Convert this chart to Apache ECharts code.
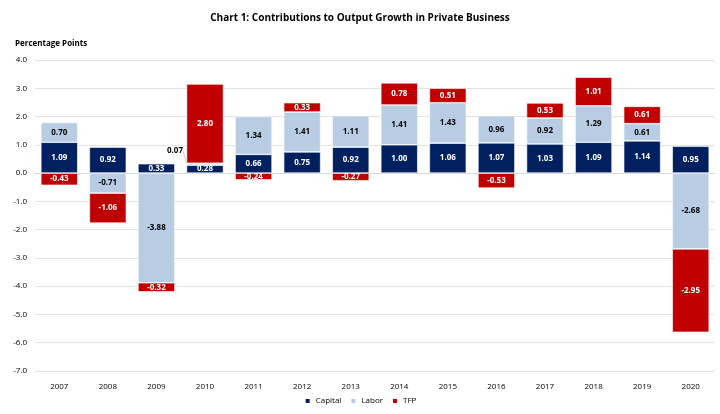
<!DOCTYPE html>
<html><head><meta charset="utf-8">
<script src="https://cdn.jsdelivr.net/npm/echarts@6/dist/echarts.min.js"></script>
<style>html,body{margin:0;padding:0;background:#fff}#c{width:720px;height:414px}</style>
</head><body><div id="c"></div>
<script>
const years = ['2007','2008','2009','2010','2011','2012','2013','2014','2015','2016','2017','2018','2019','2020'];
const capital = [1.09,0.92,0.33,0.28,0.66,0.75,0.92,1.00,1.06,1.07,1.03,1.09,1.14,0.95];
const labor = [0.70,-0.71,-3.88,0.07,1.34,1.41,1.11,1.41,1.43,0.96,0.92,1.29,0.61,-2.68];
const tfp = [-0.43,-1.06,-0.32,2.80,-0.24,0.33,-0.27,0.78,0.51,-0.53,0.53,1.01,0.61,-2.95];

const FONT = 'Open Sans';
const chart = echarts.init(document.getElementById('c'));
function lbl(color){
  return {show:true, position:'inside', color:color, fontFamily:FONT, fontWeight:'bold', fontSize:8,
    formatter: p => p.value.toFixed(2)};
}
const laborData = labor.map((v,i)=> i===3 ? {value:v, label:{color:'#000'}} : v);
chart.setOption({
  animation:false,
  title:{text:'Chart 1: Contributions to Output Growth in Private Business', left:'center', top:8,
    textStyle:{fontFamily:FONT, fontSize:10, fontWeight:'bold', color:'#000'}},
  legend:{bottom:4, left:'center', itemWidth:6, itemHeight:6, itemGap:8, icon:'rect',
    textStyle:{fontFamily:FONT, fontSize:8, color:'#000'}},
  grid:{left:35, right:5, top:60, bottom:43},
  xAxis:{type:'category', data:years, axisTick:{show:false},
    axisLine:{show:true, lineStyle:{color:'#d9d9d9'}},
    axisLabel:{fontFamily:FONT, fontSize:8, color:'#000', margin:12}},
  yAxis:{type:'value', min:-7, max:4, interval:1,
    name:'Percentage Points', nameLocation:'end', nameGap:12,
    nameTextStyle:{fontFamily:FONT, fontSize:8, fontWeight:'bold', color:'#000', align:'left', padding:[0,0,0,-20]},
    splitLine:{lineStyle:{color:'#e3e3e3'}},
    axisLabel:{fontFamily:FONT, fontSize:8, color:'#000', formatter:v=>v.toFixed(1)}},
  series:[
    {name:'Capital', type:'bar', stack:'a', data:capital, barCategoryGap:'24%',
      itemStyle:{color:'#002060', borderColor:'#fff', borderWidth:0.6}, label:lbl('#fff')},
    {name:'Labor', type:'bar', stack:'a', data:laborData,
      itemStyle:{color:'#B8CCE4', borderColor:'#fff', borderWidth:0.6}, label:lbl('#000'),
      labelLine:{show:true, lineStyle:{color:'#aaa', width:0.6}},
      labelLayout: p => p.dataIndex===3 ? {dx:-30, dy:-13} : {}},
    {name:'TFP', type:'bar', stack:'a', data:tfp,
      itemStyle:{color:'#C00000', borderColor:'#fff', borderWidth:0.6}, label:lbl('#fff')}
  ]
});
</script></body></html>
